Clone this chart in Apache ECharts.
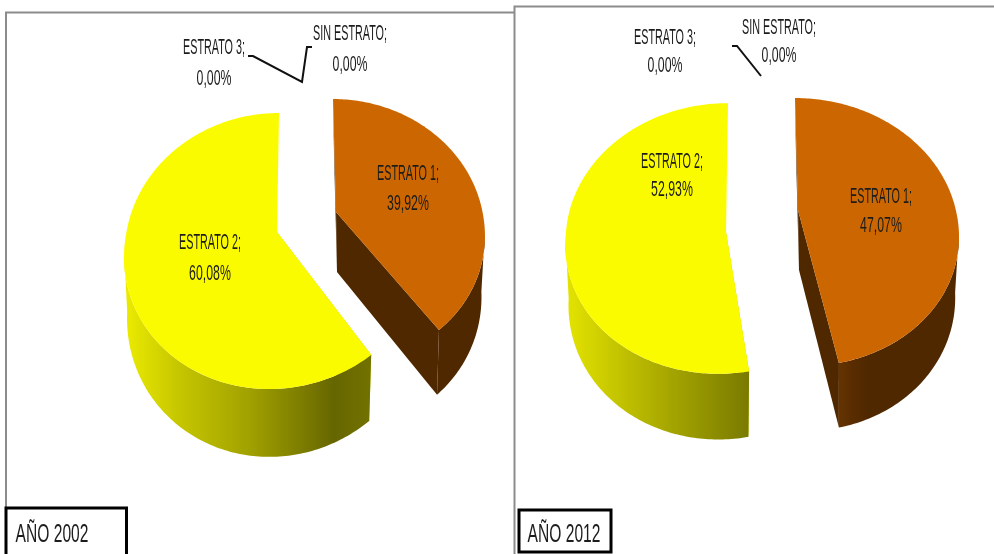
<!DOCTYPE html>
<html>
<head>
<meta charset="utf-8">
<style>html,body{margin:0;padding:0;background:#fff}#c{width:994px;height:554px}</style>
<script src="https://cdn.jsdelivr.net/npm/echarts@6/dist/echarts.min.js"></script>
</head>
<body>
<div id="c"></div>
<script>
const categories = ['ESTRATO 1', 'ESTRATO 2', 'ESTRATO 3', 'SIN ESTRATO'];
const values2002 = [39.92, 60.08, 0, 0];
const values2012 = [47.07, 52.93, 0, 0];
const panelTitles = ['AÑO 2002', 'AÑO 2012'];

const FONT = '"Liberation Sans", Arial, sans-serif';
const YELLOW = '#fbfb00', BROWN = '#cc6600', DARK = '#4f2800', YSLIVER = '#d4d400';

const yellowWall = [[0,'#ecec00'],[0.22,'#c6c600'],[0.5,'#a2a200'],[0.85,'#666600'],[1,'#727200']];
const yellowWall12 = [[0,'#e4e400'],[0.25,'#c8c800'],[0.6,'#a2a200'],[1,'#7a7a00']];
const brownWall = [[0,'#4f2800'],[1,'#4f2800']];
const brownWall12 = [[0,'#653300'],[0.1,'#5a2d00'],[0.25,'#4f2800'],[1,'#4f2800']];

// projection of each slice: apex, radii, perspective k, far/near shear; b* = lower rim
const geo2002 = [
  {ax:336, ay:212, rx:146.5, ry:129.3, k:.1446, shF:3.4,  shN:5.3,  bdx:1, bdy:60, bsx:.97, bsy:1.04},
  {ax:277, ay:232, rx:150.5, ry:135.4, k:.1377, shF:-2.3, shN:-6.6, bdx:0, bdy:60, bsx:.98, bsy:1.05}
];
const geo2012 = [
  {ax:798, ay:210, rx:157.8, ry:130.4, k:.1647, shF:3.5,  shN:5.5,  bdx:1, bdy:60, bsx:.97, bsy:1.03},
  {ax:726, ay:232, rx:160,   ry:135,   k:.048,  shF:-2.1, shN:-7.4, bdx:0, bdy:60, bsx:.98, bsy:1.04}
];
// label centre x, name line y, value line y
const labels2002 = [[408,174,204],[210,243,274],[214,48,79],[350,34,65]];
const labels2012 = [[881,197,226],[672,162,190],[665,38,66],[779,28,56]];

function project(g, deg, lower) {
  const t = deg * Math.PI / 180, x = Math.sin(t), y = -Math.cos(t), d = 1 - g.k * y;
  const ax = lower ? g.ax + g.bdx : g.ax, ay = lower ? g.ay + g.bdy : g.ay;
  const rx = lower ? g.rx * g.bsx : g.rx, ry = lower ? g.ry * g.bsy : g.ry;
  const sh = y < 0 ? g.shF : g.shN;
  return [ax + (rx * x + sh * y) / d, ay + ry * y / d];
}
function arc(g, a, b, lower) {
  const out = [], n = Math.max(2, Math.ceil(Math.abs(b - a)));
  for (let i = 0; i <= n; i++) out.push(project(g, a + (b - a) * i / n, lower));
  return out;
}
function poly(points, fill, z) {
  return {type:'polygon', shape:{points}, z2:z, style:{fill, stroke:null}};
}
function gradient(stops) {
  return {type:'linear', x:0, y:0, x2:1, y2:0, colorStops:stops.map(s => ({offset:s[0], color:s[1]}))};
}
function textEl(x, y, text, scaleX, size, z) {
  return {type:'text', x, y, scaleX, z2:z,
    style:{text, align:'center', verticalAlign:'middle', font:size + 'px ' + FONT, fill:'#1c1c1c'}};
}
function makeRender(values, geo, labels, wallY, wallB) {
  const total = values.reduce((a, b) => a + b, 0);
  return function (params, api) {
    const i = params.dataIndex, v = api.value(1);
    let start = 0;
    for (let j = 0; j < i; j++) start += values[j] / total * 360;
    const end = start + v / total * 360, kids = [];
    const g = geo[i];
    if (v > 0) {
      const top = [g.ax, g.ay], bot = [g.ax + g.bdx, g.ay + g.bdy];
      // silhouette tangent: the angle where the rim's horizontal extreme lies
      const tangent = Math.asin(g.k) * 180 / Math.PI;
      kids.push(poly([project(g, start), top, bot, project(g, start, true)], i === 0 ? DARK : YSLIVER, 1));
      if (i === 0) {
        const from = 90 + tangent;
        kids.push(poly([top, project(g, end), project(g, end, true), bot], DARK, 2));
        kids.push(poly(arc(g, from, end).concat(arc(g, end, from, true)), gradient(wallB), 3));
      } else {
        const to = 270 - tangent;
        kids.push(poly(arc(g, start, to).concat(arc(g, to, start, true)), gradient(wallY), 3));
      }
      kids.push(poly([top].concat(arc(g, start, end)), i === 0 ? BROWN : YELLOW, 4));
    }
    const L = labels[i];
    const pct = v.toFixed(2).replace('.', ',') + '%';
    kids.push(textEl(L[0], L[1], categories[i] + ';', .49, 22, 5));
    kids.push(textEl(L[0], L[2], pct, .56, 22, 5));
    return {type:'group', children:kids};
  };
}
function seriesFor(values, geo, labels, wallY, wallB) {
  return {type:'custom', coordinateSystem:'none', silent:true, clip:false, animation:false,
    data:categories.map((c, i) => [i, values[i]]),
    renderItem:makeRender(values, geo, labels, wallY, wallB)};
}
function line(points, stroke, w) {
  return {type:'polyline', shape:{points}, style:{stroke, lineWidth:w, fill:null}, z:10};
}
function titleBox(x, y, w, h, cx, cy, text) {
  return [
    {type:'rect', shape:{x, y, width:w, height:h}, style:{fill:'#fff', stroke:'#000', lineWidth:3}, z:11},
    {type:'text', x:cx, y:cy, scaleX:.6, z:12,
     style:{text, align:'center', verticalAlign:'middle', font:'26px ' + FONT, fill:'#1c1c1c'}}
  ];
}

const chart = echarts.init(document.getElementById('c'), null, {renderer:'canvas'});
chart.setOption({
  backgroundColor:'#fff',
  animation:false,
  series:[
    seriesFor(values2002, geo2002, labels2002, yellowWall, brownWall),
    seriesFor(values2012, geo2012, labels2012, yellowWall12, brownWall12)
  ],
  graphic:[
    line([[6,554],[6,12.5],[514,12.5]], '#8c8c8c', 2),
    line([[514.5,554],[514.5,6.5],[994,6.5]], '#8c8c8c', 2),
    line([[248,56],[253,56],[302,82],[307,47],[312,47]], '#111', 2),
    line([[732,46],[737,46],[761,76]], '#111', 2),
    ...titleBox(6, 508, 120.5, 50, 52, 535, panelTitles[0]),
    ...titleBox(519, 510, 92, 42, 564, 535, panelTitles[1])
  ]
});
</script>
</body>
</html>
